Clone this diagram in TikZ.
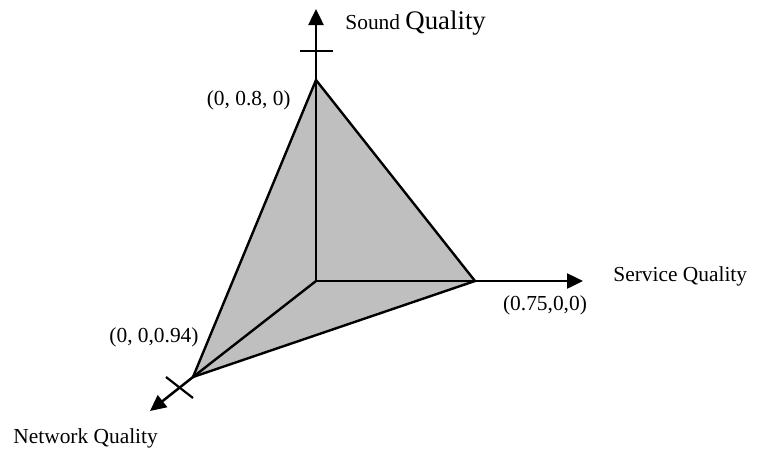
\documentclass[tikz,border=0pt]{standalone}
\usepackage{fontspec}
\setmainfont{Liberation Serif}
\usetikzlibrary{arrows.meta}
\tikzset{
  axisline/.style={line width=1.25pt, -{Triangle[length=8pt,width=7.5pt]}},
  edge/.style={line width=1.2pt, line join=miter},
  tickmark/.style={line width=1.1pt},
  lbl/.style={inner sep=0pt, font=\fontsize{10.7pt}{12pt}\selectfont},
  facefill/.style={fill=black!25}
}
\begin{document}
\begin{tikzpicture}[x=0.5pt,y=-0.5pt]
\useasboundingbox (0,0) rectangle (767,451);
% vertices
\coordinate (O) at (316,281);
\coordinate (S) at (316,80);
\coordinate (V) at (475,281);
\coordinate (N) at (193,377);
% axis ends
\coordinate (Sup) at (316,9);
\coordinate (Vr) at (583,281);
\coordinate (Nd) at (150,411);
% ticks
\coordinate (t1a) at (300,51);
\coordinate (t1b) at (333,51);
\coordinate (t2a) at (166,377);
\coordinate (t2b) at (193,398);
% face
\fill[facefill] (S) -- (V) -- (N) -- cycle;
\draw[edge] (S) -- (V) -- (N) -- cycle;
\draw[edge] (O) -- (N);
% axes
\draw[axisline] (O) -- (Sup);
\draw[axisline] (O) -- (Vr);
\draw[axisline] (N) -- (Nd);
\draw[tickmark] (t1a) -- (t1b);
\draw[tickmark] (t2a) -- (t2b);
% labels
\node[lbl, anchor=west] (lsound) at (345,23) {Sound {\fontsize{13.4pt}{15pt}\selectfont Quality}};
\node[lbl, anchor=west] (lserv) at (613,276) {Service Quality};
\node[lbl, anchor=west] (lnet) at (13,438) {Network Quality};
\node[lbl, anchor=east] (ls) at (291,100) {(0, 0.8, 0)};
\node[lbl] (lv) at (545,305) {(0.75,0,0)};
\node[lbl] (ln) at (154,337) {(0, 0,0.94)};
\end{tikzpicture}
\end{document}
